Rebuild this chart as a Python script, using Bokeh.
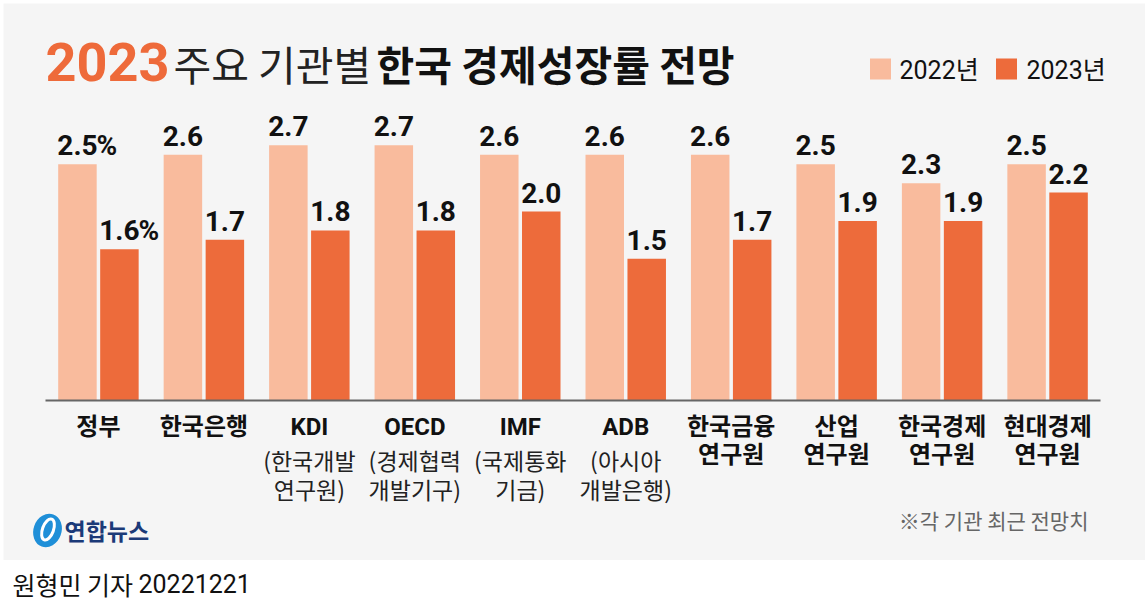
from bokeh.plotting import figure
from bokeh.models import FactorRange, Range1d, ColumnDataSource
from bokeh.transform import dodge
from bokeh.layouts import column
from bokeh.core.properties import value
from bokeh.embed import file_html
from bokeh.resources import INLINE

# ---------------- data ----------------
categories = ["정부", "한국은행", "KDI", "OECD", "IMF", "ADB", "한국금융", "산업", "한국경제", "현대경제"]
name_line2 = ["", "", "", "", "", "", "연구원", "연구원", "연구원", "연구원"]
sub_line1 = ["", "", "(한국개발", "(경제협력", "(국제통화", "(아시아", "", "", "", ""]
sub_line2 = ["", "", "연구원)", "개발기구)", "기금)", "개발은행)", "", "", "", ""]
values_2022 = [2.5, 2.6, 2.7, 2.7, 2.6, 2.6, 2.6, 2.5, 2.3, 2.5]
values_2023 = [1.6, 1.7, 1.8, 1.8, 2.0, 1.5, 1.7, 1.9, 1.9, 2.2]
series_names = ["2022년", "2023년"]
title_year = "2023"
title_light = "주요 기관별"
title_bold = "한국 경제성장률 전망"
footnote = "※각 기관 최근 전망치"
logo_text = "연합뉴스"
byline_name = "원형민 기자"
byline_date = "20221221"

# ---------------- styles / layout ----------------
C22 = "#f9bb9d"
C23 = "#ed6b3b"
BG = "#f5f5f5"
KR = "Noto Sans CJK KR"
MIX = "Roboto, Noto Sans CJK KR"

W, H = 1145, 560
UNIT = 105.46                      # pixels per category
PAD = (W / UNIT - len(categories)) / 2
PX_PER_VAL = 94.5
BASE_Y = 400                       # pixel row of the zero line


def sx(px):
    """pixel x -> synthetic categorical coordinate"""
    return px / UNIT - PAD


src = ColumnDataSource(dict(
    cat=categories,
    v22=values_2022,
    v23=values_2023,
    l22=[f"{v:.1f}" for v in values_2022],
    l23=[f"{v:.1f}" for v in values_2023],
    n2=name_line2,
    s1=sub_line1,
    s2=sub_line2,
))

p = figure(width=W, height=H,
           x_range=FactorRange(*categories, range_padding=PAD, range_padding_units="absolute"),
           y_range=Range1d(-(H - BASE_Y) / PX_PER_VAL, BASE_Y / PX_PER_VAL),
           x_axis_location=None, y_axis_location=None,
           output_backend="svg", toolbar_location=None, min_border=0)
p.grid.visible = False
p.outline_line_color = None
p.background_fill_color = "white"
p.border_fill_color = "white"
p.extra_y_ranges = {"py": Range1d(H, 0)}

# grey panel
p.quad(left=[sx(3)], right=[sx(W + 5)], top=[3], bottom=[H + 5], y_range_name="py",
       fill_color=BG, line_color=None)

# bars
off = 0.199
bw = 0.365
p.vbar(x=dodge("cat", -off, range=p.x_range), top="v22", bottom=0, width=bw,
       source=src, fill_color=C22, line_color=None)
p.vbar(x=dodge("cat", off, range=p.x_range), top="v23", bottom=0, width=bw,
       source=src, fill_color=C23, line_color=None)

# value labels
lab_kw = dict(source=src, text_align="center", text_baseline="middle", y_offset=-19,
              text_font=value("Roboto"), text_font_style="bold", text_font_size="28px",
              text_color="#111111")
p.text(x=dodge("cat", -off, range=p.x_range), y="v22", text="l22", **lab_kw)
p.text(x=dodge("cat", off, range=p.x_range), y="v23", text="l23", **lab_kw)

pct_src = ColumnDataSource(dict(cat=categories[:1], v22=values_2022[:1], v23=values_2023[:1]))
pct_kw = dict(source=pct_src, text=value("%"), text_align="left", text_baseline="middle",
              y_offset=-19, x_offset=19, text_font=value("Roboto"), text_font_style="bold",
              text_font_size="28px", text_color="#111111")
p.text(x=dodge("cat", -off, range=p.x_range), y="v22", **pct_kw)
p.text(x=dodge("cat", off, range=p.x_range), y="v23", **pct_kw)

# baseline axis line
p.segment(x0=sx(45), x1=sx(1100), y0=0, y1=0, line_color="#666666", line_width=2)

# category labels
bold_kw = dict(source=src, y_range_name="py", text_align="center", text_baseline="middle",
               text_font=value(MIX), text_font_style="bold", text_font_size="24px",
               text_color="#111111")
p.text(x="cat", y=426, text="cat", **bold_kw)
p.text(x="cat", y=454, text="n2", **bold_kw)
reg_kw = dict(source=src, y_range_name="py", text_align="center", text_baseline="middle",
              text_font=value(KR), text_font_size="23px", text_color="#222222")
p.text(x="cat", y=459, text="s1", **reg_kw)
p.text(x="cat", y=488, text="s2", **reg_kw)

# title
p.text(x=[sx(45)], y=[61], text=[title_year], y_range_name="py",
       text_align="left", text_baseline="middle", text_font=value("Roboto"),
       text_font_style="bold", text_font_size="54px", text_color="#ee6a3a")
p.text(x=[sx(173)], y=[62], text=[title_light], y_range_name="py",
       text_align="left", text_baseline="middle", text_font=value(KR),
       text_font_size="41px", text_color="#222222")
p.text(x=[sx(376)], y=[62], text=[title_bold], y_range_name="py",
       text_align="left", text_baseline="middle", text_font=value(KR),
       text_font_style="bold", text_font_size="41px", text_color="#111111")

# legend
p.rect(x=[sx(880), sx(1006)], y=[68.5, 68.5], width=21, height=21, width_units="screen",
       height_units="screen", y_range_name="py", fill_color=[C22, C23], line_color=None)
p.text(x=[sx(899), sx(1026)], y=[70, 70], text=series_names, y_range_name="py",
       text_align="left", text_baseline="middle", text_font=value(MIX),
       text_font_size="25px", text_color="#111111")

# footnote
p.text(x=[sx(1088)], y=[519], text=[footnote], y_range_name="py",
       text_align="right", text_baseline="middle", text_font=value(KR),
       text_font_size="21px", text_color="#666666")

# logo
p.ellipse(x=[sx(47)], y=[530], width=28, height=34, angle=-0.35, width_units="screen",
          height_units="screen", y_range_name="py", fill_color="#1f8fd8", line_color=None)
p.ellipse(x=[sx(47.5)], y=[529], width=11, height=22, angle=-0.35, width_units="screen",
          height_units="screen", y_range_name="py",
          fill_color=None, line_color="white", line_width=3)
p.text(x=[sx(64)], y=[529], text=[logo_text], y_range_name="py",
       text_align="left", text_baseline="middle", text_font=value(KR), text_font_style="bold",
       text_font_size="23px", text_color="#1b3a78")

# byline strip
p2 = figure(width=W, height=46, x_range=Range1d(0, W), y_range=Range1d(606, 560),
            x_axis_location=None, y_axis_location=None,
            output_backend="svg", toolbar_location=None, min_border=0)
p2.grid.visible = False
p2.outline_line_color = None
p2.background_fill_color = "white"
p2.border_fill_color = "white"
p2.text(x=[12], y=[583], text=[byline_name], text_align="left", text_baseline="middle",
        text_font=value(KR), text_font_size="25px", text_color="#111111")
p2.text(x=[138], y=[583], text=[byline_date], text_align="left", text_baseline="middle",
        text_font=value("Roboto"), text_font_size="25px", text_color="#111111")

layout = column(p, p2, spacing=0)
open("out.html", "w").write(file_html(layout, INLINE))
